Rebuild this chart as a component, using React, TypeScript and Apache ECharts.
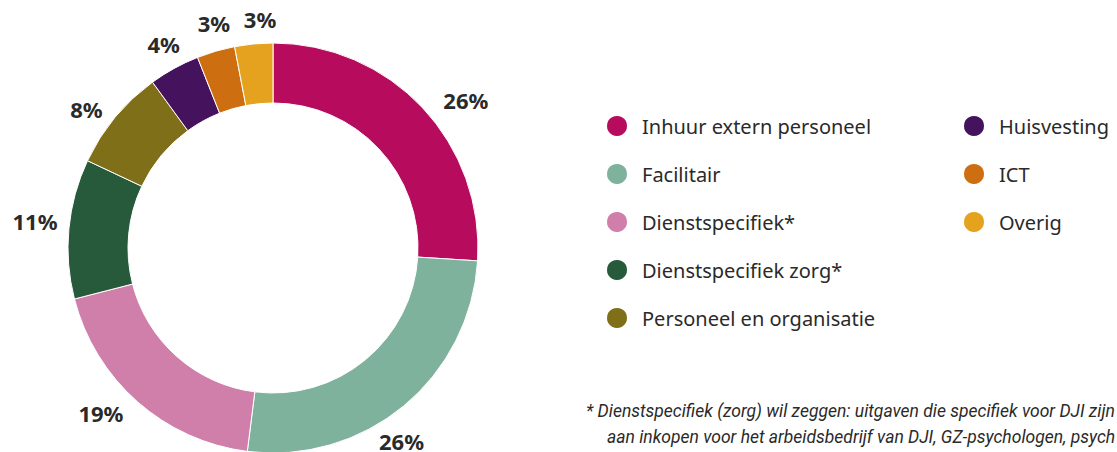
import React, { useEffect, useRef } from "react";
import * as echarts from "echarts";

const categories = [
  "Inhuur extern personeel",
  "Facilitair",
  "Dienstspecifiek*",
  "Dienstspecifiek zorg*",
  "Personeel en organisatie",
  "Huisvesting",
  "ICT",
  "Overig",
];
const values = [26, 26, 19, 11, 8, 4, 3, 3];
const colors = ["#b70c5e", "#7fb29c", "#d07fab", "#275a3b", "#7f6f18", "#45125e", "#cd6f10", "#e5a21f"];
const legendCol1 = categories.slice(0, 5);
const legendCol2 = categories.slice(5);
const footnoteLine1 = "* Dienstspecifiek (zorg) wil zeggen: uitgaven die specifiek voor DJI zijn";
const footnoteLine2 = "aan inkopen voor het arbeidsbedrijf van DJI, GZ-psychologen, psych";

// per-label nudges (px) relative to the mid-angle anchor ring
const labelNudges: [number, number][] = [
  [23, 11], [-20, 13], [-18, -10], [-6, -5], [-7, 10], [3, 0], [6, -1], [9, 3],
];

export default function App() {
  const ref = useRef<HTMLDivElement>(null);
  useEffect(() => {
    document.body.style.margin = "0";
    if (!ref.current) return;
    const chart = echarts.init(ref.current, null, { renderer: "svg" });
    const textColor = "#2a2a2a";
    const legendBase = {
      orient: "vertical" as const,
      top: 114,
      padding: 0,
      icon: "circle",
      itemWidth: 22,
      itemHeight: 22,
      itemGap: 24,
      selectedMode: false,
      textStyle: {
        fontFamily: "Noto Sans",
        fontSize: 20,
        lineHeight: 22,
        color: textColor,
        padding: [0, 0, 0, 9],
      },
    };
    chart.setOption({
      animation: false,
      color: colors,
      legend: [
        { ...legendBase, left: 605, data: legendCol1 },
        { ...legendBase, left: 962, data: legendCol2 },
      ],
      series: [
        {
          type: "pie",
          center: [273, 248],
          radius: [145, 205],
          startAngle: 90,
          clockwise: true,
          silent: true,
          label: { show: false },
          labelLine: { show: false },
          itemStyle: { borderColor: "#ffffff", borderWidth: 1 },
          data: categories.map((name, i) => ({ name, value: values[i] })),
        },
        {
          type: "pie",
          center: [273, 248],
          radius: [225, 235],
          startAngle: 90,
          clockwise: true,
          silent: true,
          itemStyle: { color: "rgba(0,0,0,0)" },
          labelLine: { show: false },
          label: {
            show: true,
            position: "inside",
            formatter: "{c}%",
            fontFamily: "Noto Sans",
            fontWeight: "bold",
            fontSize: 22,
            color: textColor,
          },
          data: categories.map((name, i) => ({
            name,
            value: values[i],
            label: { offset: labelNudges[i] },
          })),
        },
      ],
      graphic: [
        {
          type: "text",
          x: 586,
          y: 411,
          style: {
            text: footnoteLine1,
            fontFamily: "Roboto",
            fontStyle: "italic",
            fontSize: 17.5,
            fill: textColor,
            verticalAlign: "middle",
          },
        },
        {
          type: "text",
          x: 607,
          y: 437,
          style: {
            text: footnoteLine2,
            fontFamily: "Roboto",
            fontStyle: "italic",
            fontSize: 17.5,
            fill: textColor,
            verticalAlign: "middle",
          },
        },
      ],
    });
    return () => chart.dispose();
  }, []);
  return <div ref={ref} style={{ width: 1117, height: 452 }} />;
}
